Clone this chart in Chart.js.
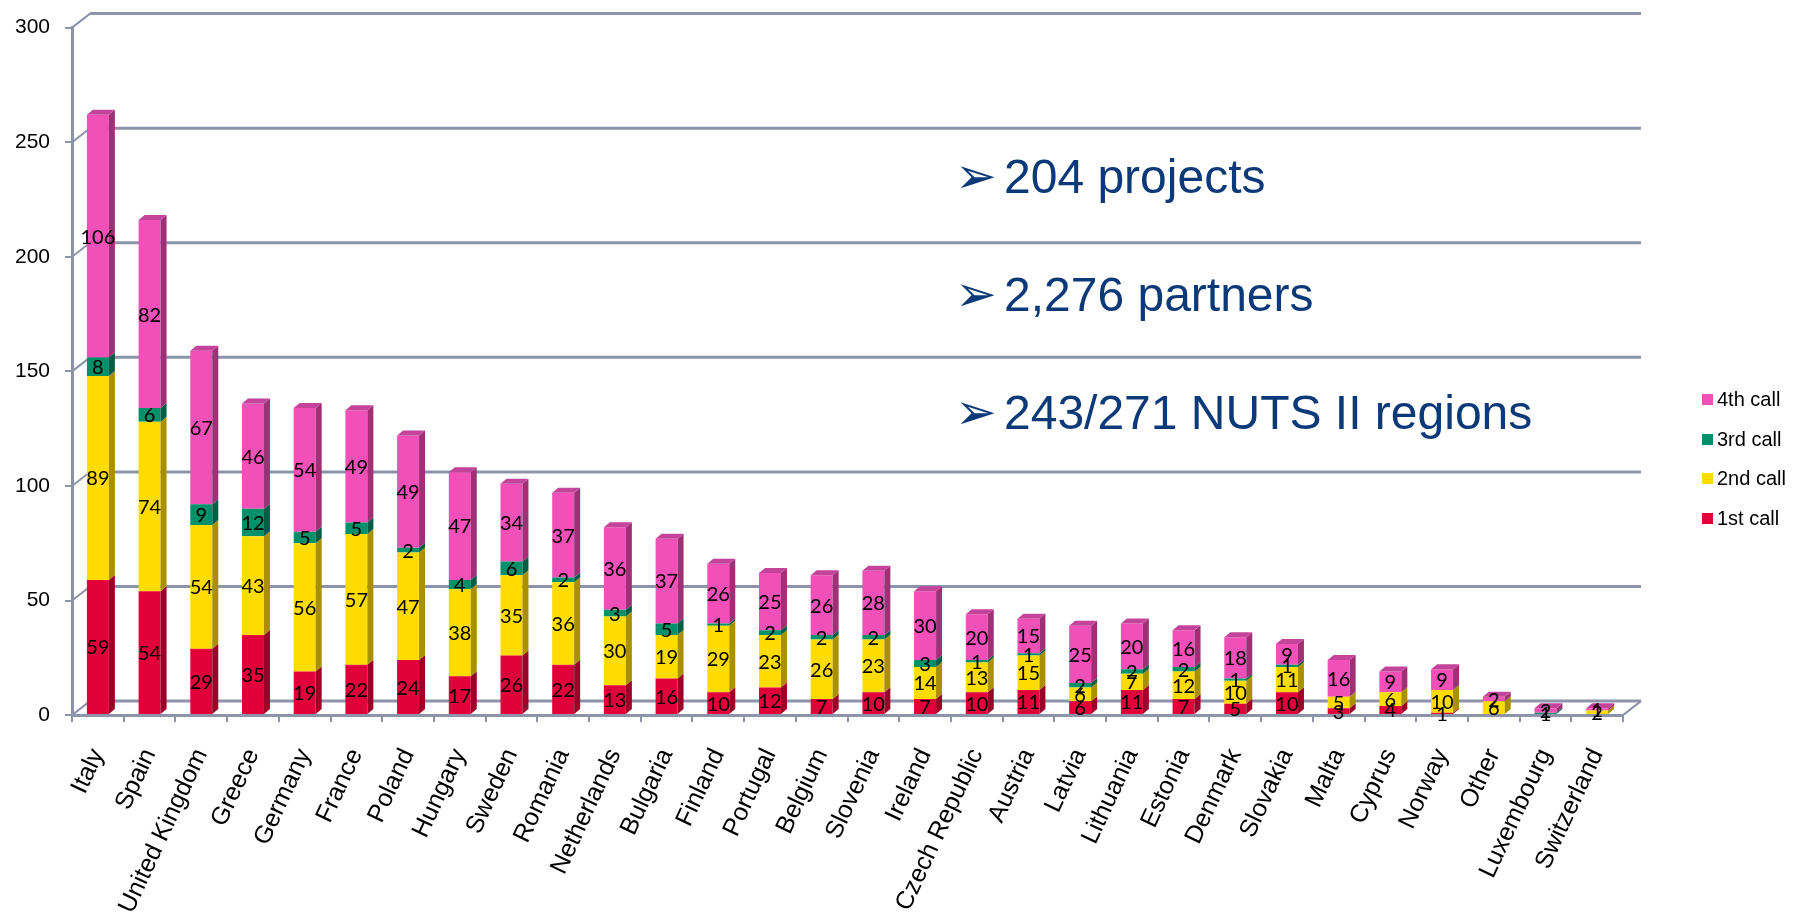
<!DOCTYPE html>
<html>
<head>
<meta charset="utf-8">
<script src="https://cdn.jsdelivr.net/npm/chart.js@4/dist/chart.umd.min.js"></script>
<style>
    body { margin: 0; background: #fff; }
    #wrap { position: relative; width: 1803px; height: 919px; }
    .note { position: absolute; left: 955px; font-family: 'Liberation Sans', Arial, sans-serif; font-size: 48px; line-height: 48px; color: #0c3a78; white-space: nowrap; }
    .note .arr { display: inline-block; width: 49px; font-family: 'DejaVu Sans', sans-serif; font-size: 50px; }
    #legend { position: absolute; left: 1702px; top: 389px; font-family: 'Liberation Sans', Arial, sans-serif; font-size: 20px; color: #000; }
    #legend div { height: 39.5px; line-height: 20px; white-space: nowrap; }
    #legend span { display: inline-block; width: 11px; height: 11px; margin-right: 4px; vertical-align: 1px; }
</style>
</head>
<body>
<div id="wrap">
    <canvas id="grafico"></canvas>
    <div class="note" style="top:152px"><span class="arr">➢</span>204 projects</div>
    <div class="note" style="top:270px"><span class="arr">➢</span>2,276 partners</div>
    <div class="note" style="top:388px"><span class="arr">➢</span>243/271 NUTS II regions</div>
    <div id="legend"></div>
</div>
<script>
// Datos del gráfico
const paises = ['Italy', 'Spain', 'United Kingdom', 'Greece', 'Germany', 'France', 'Poland', 'Hungary',
    'Sweden', 'Romania', 'Netherlands', 'Bulgaria', 'Finland', 'Portugal', 'Belgium', 'Slovenia',
    'Ireland', 'Czech Republic', 'Austria', 'Latvia', 'Lithuania', 'Estonia', 'Denmark', 'Slovakia',
    'Malta', 'Cyprus', 'Norway', 'Other', 'Luxembourg', 'Switzerland'];
const llamada1 = [59, 54, 29, 35, 19, 22, 24, 17, 26, 22, 13, 16, 10, 12, 7, 10, 7, 10, 11, 6, 11, 7, 5, 10, 3, 4, 1, 0, 0, 0];
const llamada2 = [89, 74, 54, 43, 56, 57, 47, 38, 35, 36, 30, 19, 29, 23, 26, 23, 14, 13, 15, 6, 7, 12, 10, 11, 5, 6, 10, 6, 0, 2];
const llamada3 = [8, 6, 9, 12, 5, 5, 2, 4, 6, 2, 3, 5, 1, 2, 2, 2, 3, 1, 1, 2, 2, 2, 1, 1, 0, 0, 0, 0, 1, 0];
const llamada4 = [106, 82, 67, 46, 54, 49, 49, 47, 34, 37, 36, 37, 26, 25, 26, 28, 30, 20, 15, 25, 20, 16, 18, 9, 16, 9, 9, 2, 2, 1];
const nombres = ['1st call', '2nd call', '3rd call', '4th call'];

// Colores: frente, lateral, tapa
const colores = [
    { frente: '#e2003a', lado: '#9c0028', tapa: '#b8002f' },
    { frente: '#ffdc00', lado: '#a89000', tapa: '#d4b600' },
    { frente: '#00906a', lado: '#005e44', tapa: '#007656' },
    { frente: '#f050b8', lado: '#a03076', tapa: '#c4449c' }
];
const gris = '#8d94a9';
const prof = { dx: 6, dy: 5 };     // profundidad de las barras
const pared = { dx: 18, dy: 14 };  // profundidad de la pared del fondo

// Leyenda (orden invertido como en el original)
const leyenda = document.getElementById('legend');
for (let i = nombres.length - 1; i >= 0; i--) {
    const fila = document.createElement('div');
    fila.innerHTML = '<span style="background:' + colores[i].frente + '"></span>' + nombres[i];
    leyenda.appendChild(fila);
}

// Pared del fondo con líneas de la cuadrícula
const paredFondo = {
    id: 'paredFondo',
    beforeDatasetsDraw(chart) {
        const ctx = chart.ctx;
        const area = chart.chartArea;
        const y = chart.scales.y;
        ctx.save();
        ctx.strokeStyle = gris;
        y.ticks.forEach(t => {
            const py = y.getPixelForValue(t.value);
            ctx.lineWidth = 3;
            ctx.beginPath();
            ctx.moveTo(area.left + pared.dx, py - pared.dy);
            ctx.lineTo(area.right + pared.dx, py - pared.dy);
            ctx.stroke();
            ctx.lineWidth = 2;
            ctx.beginPath();
            ctx.moveTo(area.left, py);
            ctx.lineTo(area.left + pared.dx, py - pared.dy);
            ctx.stroke();
        });
        // borde derecho del suelo
        ctx.lineWidth = 2;
        ctx.beginPath();
        ctx.moveTo(area.right, area.bottom);
        ctx.lineTo(area.right + pared.dx, area.bottom - pared.dy);
        ctx.stroke();
        ctx.restore();
    }
};

// Caras laterales, tapas y etiquetas de valor
const barras3d = {
    id: 'barras3d',
    afterDatasetsDraw(chart) {
        const ctx = chart.ctx;
        ctx.save();
        chart.data.datasets.forEach((ds, d) => {
            const meta = chart.getDatasetMeta(d);
            meta.data.forEach((el, i) => {
                if (!ds.data[i]) return;
                const p = el.getProps(['x', 'y', 'base', 'width'], true);
                const der = p.x + p.width / 2;
                const arriba = Math.min(p.y, p.base);
                const abajo = Math.max(p.y, p.base);
                ctx.fillStyle = colores[d].lado;
                ctx.beginPath();
                ctx.moveTo(der, abajo);
                ctx.lineTo(der, arriba);
                ctx.lineTo(der + prof.dx, arriba - prof.dy);
                ctx.lineTo(der + prof.dx, abajo - prof.dy);
                ctx.closePath();
                ctx.fill();
                // tapa solo para el segmento superior
                let esUltimo = true;
                for (let k = d + 1; k < chart.data.datasets.length; k++) {
                    if (chart.data.datasets[k].data[i]) esUltimo = false;
                }
                if (esUltimo) {
                    const izq = p.x - p.width / 2;
                    ctx.fillStyle = colores[d].tapa;
                    ctx.beginPath();
                    ctx.moveTo(izq, arriba);
                    ctx.lineTo(izq + prof.dx, arriba - prof.dy);
                    ctx.lineTo(der + prof.dx, arriba - prof.dy);
                    ctx.lineTo(der, arriba);
                    ctx.closePath();
                    ctx.fill();
                }
            });
        });
        // etiquetas
        ctx.fillStyle = '#000';
        ctx.font = '20px Lato, sans-serif';
        ctx.textAlign = 'center';
        ctx.textBaseline = 'middle';
        chart.data.datasets.forEach((ds, d) => {
            const meta = chart.getDatasetMeta(d);
            meta.data.forEach((el, i) => {
                if (!ds.data[i]) return;
                const p = el.getProps(['x', 'y', 'base'], true);
                ctx.fillText(String(ds.data[i]), p.x, (p.y + p.base) / 2 + 1);
            });
        });
        ctx.restore();
    }
};

const series = [llamada1, llamada2, llamada3, llamada4];

new Chart(document.getElementById('grafico'), {
    type: 'bar',
    data: {
        labels: paises,
        datasets: series.map((datos, d) => ({
            label: nombres[d],
            data: datos,
            backgroundColor: colores[d].frente,
            borderWidth: 0,
            barPercentage: 0.425,
            categoryPercentage: 1
        }))
    },
    options: {
        responsive: true,
        maintainAspectRatio: false,
        animation: false,
        layout: { padding: { top: 12, left: 0, right: 180, bottom: -21 } },
        plugins: {
            legend: { display: false },
            tooltip: { enabled: false }
        },
        scales: {
            x: {
                stacked: true,
                grid: { drawOnChartArea: false, drawTicks: true, tickLength: 7, color: gris, lineWidth: 2, offset: true },
                border: { display: true, color: gris, width: 3 },
                ticks: {
                    autoSkip: false,
                    minRotation: 65,
                    maxRotation: 65,
                    padding: 22,
                    color: '#000',
                    font: { family: "'Liberation Sans', Arial, sans-serif", size: 25 }
                }
            },
            y: {
                stacked: true,
                min: 0,
                max: 300,
                grid: { drawOnChartArea: false, drawTicks: true, tickLength: 7, color: gris, lineWidth: 2 },
                border: { display: true, color: gris, width: 3 },
                ticks: {
                    stepSize: 50,
                    padding: 15,
                    color: '#000',
                    font: { family: "'Liberation Sans', Arial, sans-serif", size: 21 }
                }
            }
        }
    },
    plugins: [paredFondo, barras3d]
});
</script>
</body>
</html>
